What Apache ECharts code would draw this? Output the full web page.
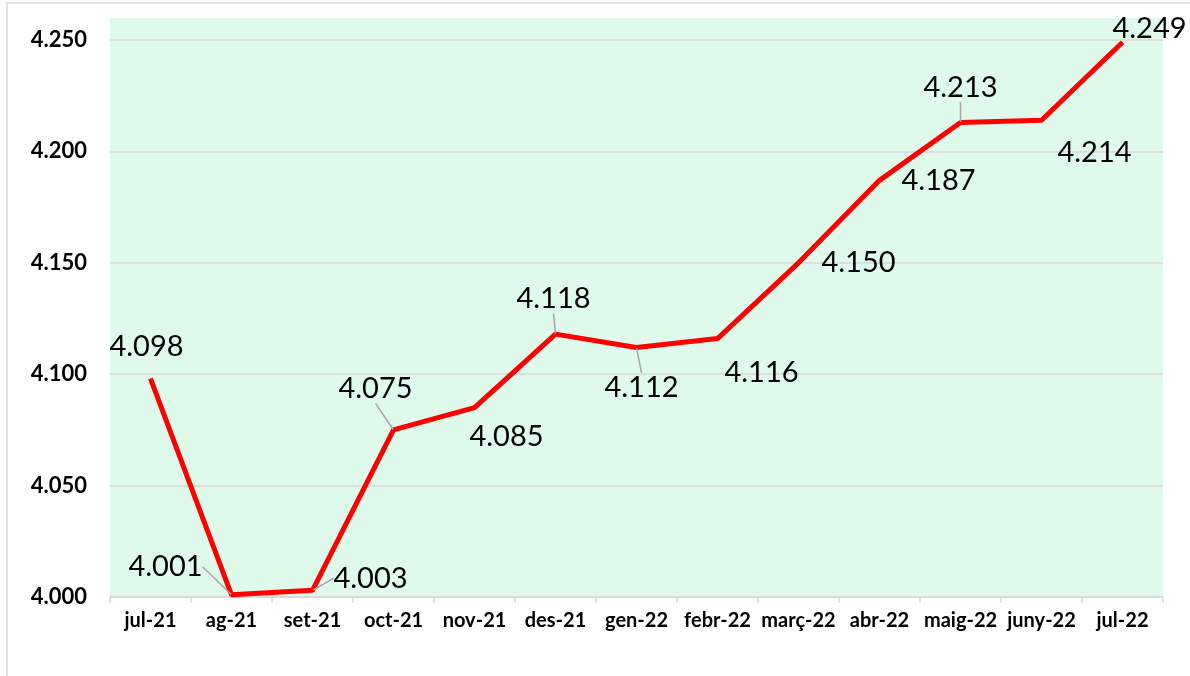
<!DOCTYPE html>
<html>
<head>
<meta charset="utf-8">
<script src="https://cdn.jsdelivr.net/npm/echarts@6/dist/echarts.min.js"></script>
<style>
  html, body { margin: 0; padding: 0; background: #fff; }
  #chart { width: 1190px; height: 676px; }
</style>
</head>
<body>
<div id="chart"></div>
<script>
// mesos
const months = ['jul-21', 'ag-21', 'set-21', 'oct-21', 'nov-21', 'des-21', 'gen-22',
  'febr-22', 'març-22', 'abr-22', 'maig-22', 'juny-22', 'jul-22'];
// valors
const values = [4.098, 4.001, 4.003, 4.075, 4.085, 4.118, 4.112,
  4.116, 4.150, 4.187, 4.213, 4.214, 4.249];
// eix Y
const yTicks = [4.000, 4.050, 4.100, 4.150, 4.200, 4.250];

// desplaçament de les etiquetes respecte al punt
const labelShift = [[-4, -32], [-66, -28], [58, -12], [-18, -41], [32, 29], [-2, -35],
  [5, 40], [44, 34], [60, 0], [59, 0], [0, -35], [53, 32], [27, -14]];
const withLeader = [false, true, true, true, false, true, true, false, false, false, true, false, false];

const fmt = v => v.toFixed(3);

const chart = echarts.init(document.getElementById('chart'));

const option = {
  backgroundColor: '#fff',
  animation: false,
  graphic: [
    { type: 'rect', z: -10, shape: { x: 7, y: 3, width: 1220, height: 720 },
      style: { fill: '#fff', stroke: '#d9d9d9', lineWidth: 1.5 } },
    { type: 'rect', z: -5, shape: { x: 110, y: 18, width: 1053, height: 579 },
      style: { fill: '#dff9eb' } }
  ],
  grid: { left: 110, right: 27, top: 40, bottom: 79 },
  xAxis: {
    type: 'category',
    data: months,
    boundaryGap: true,
    axisLine: { lineStyle: { color: '#d9d9d9', width: 1.5 } },
    axisTick: { show: true, length: 6, lineStyle: { color: '#d9d9d9', width: 1.5 } },
    axisLabel: { color: '#000', fontFamily: 'Lato', fontWeight: 'bold', fontSize: 20, margin: 14, interval: 0 }
  },
  yAxis: {
    type: 'value',
    min: yTicks[0],
    max: yTicks[yTicks.length - 1],
    interval: 0.05,
    axisLine: { show: false },
    axisTick: { show: false },
    splitLine: { lineStyle: { color: '#d9d9d9', width: 1.5 } },
    axisLabel: { color: '#000', fontFamily: 'Lato', fontWeight: 'bold', fontSize: 22, margin: 23,
      formatter: v => fmt(v) }
  },
  series: [{
    type: 'line',
    data: values.map((v, i) => ({
      value: v,
      labelLine: { show: withLeader[i] }
    })),
    showSymbol: true,
    symbol: 'circle',
    symbolSize: 1,
    itemStyle: { color: '#ff0000' },
    lineStyle: { color: '#ff0000', width: 5 },
    label: {
      show: true,
      position: 'inside',
      formatter: p => fmt(p.value),
      color: '#000',
      fontFamily: 'Lato',
      fontSize: 29
    },
    labelLine: { lineStyle: { color: '#a6a6a6', width: 1.5 } },
    labelLayout: p => ({ dx: labelShift[p.dataIndex][0], dy: labelShift[p.dataIndex][1] })
  }]
};

chart.setOption(option);
window.addEventListener('resize', () => chart.resize());
</script>
</body>
</html>
